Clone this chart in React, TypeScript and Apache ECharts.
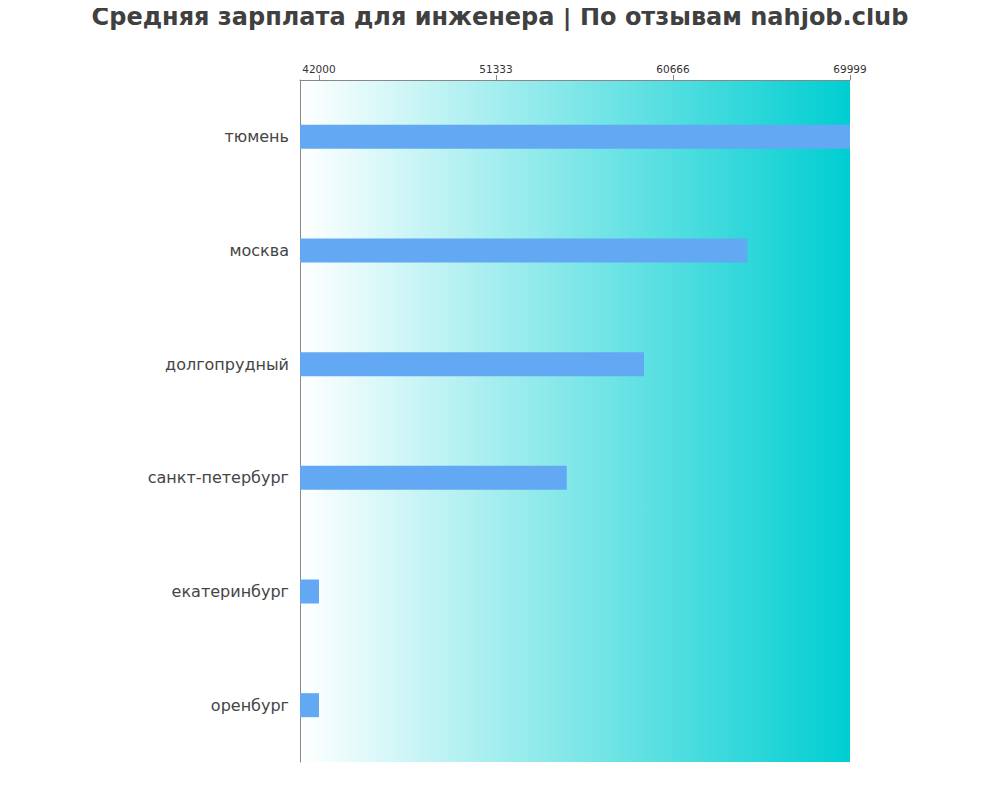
import React, { useEffect, useRef } from 'react';
import * as echarts from 'echarts';

// города и средняя зарплата
const cities = ['тюмень', 'москва', 'долгопрудный', 'санкт-петербург', 'екатеринбург', 'оренбург'];
const salaries = [69999, 64583, 59137, 55061, 42000, 42000];
const tickValues = [42000, 51333, 60666, 69999];
const axisMin = 41000;
const axisMax = 69999;

const FONT = '"DejaVu Sans", sans-serif';

const App: React.FC = () => {
  const chartRef = useRef<HTMLDivElement>(null);

  useEffect(() => {
    if (!chartRef.current) return;
    const chart = echarts.init(chartRef.current, undefined, { renderer: 'svg' });

    const option = {
      animation: false,
      title: {
        text: 'Средняя зарплата для инженера | По отзывам nahjob.club',
        left: 'center',
        top: 0,
        textStyle: {
          fontFamily: FONT,
          fontSize: 24,
          fontWeight: 'bold',
          color: '#404040'
        }
      },
      grid: {
        left: 300,
        right: 150,
        top: 80,
        bottom: 38,
        show: true,
        borderWidth: 0,
        backgroundColor: new echarts.graphic.LinearGradient(0, 0, 1, 0, [
          { offset: 0, color: '#ffffff' },
          { offset: 1, color: '#00ced1' }
        ])
      },
      xAxis: {
        type: 'value',
        position: 'top',
        min: axisMin,
        max: axisMax,
        axisLine: { show: true, lineStyle: { color: '#888888' } },
        axisTick: {
          show: true,
          customValues: tickValues,
          length: 5,
          lineStyle: { color: '#888888' }
        },
        axisLabel: {
          customValues: tickValues,
          formatter: (v: number) => String(v),
          fontFamily: FONT,
          fontSize: 10.5,
          color: '#333333',
          margin: 6
        },
        splitLine: { show: false }
      },
      yAxis: {
        type: 'category',
        inverse: true,
        data: cities,
        axisLine: { show: true, lineStyle: { color: '#888888' } },
        axisTick: { show: false },
        axisLabel: {
          fontFamily: FONT,
          fontSize: 16,
          color: '#454545',
          margin: 11
        }
      },
      series: [
        {
          type: 'bar',
          data: salaries,
          barWidth: 24,
          itemStyle: { color: '#63a8f2' }
        }
      ]
    };

    chart.setOption(option);
    return () => {
      chart.dispose();
    };
  }, []);

  return <div ref={chartRef} style={{ width: 1000, height: 800, margin: -8 }} />;
};

export default App;
